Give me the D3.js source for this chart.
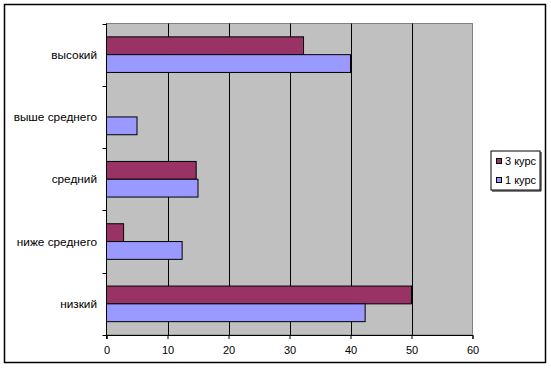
<!DOCTYPE html>
<html><head><meta charset="utf-8">
<script src="https://cdn.jsdelivr.net/npm/d3@7"></script>
<style>
html,body{margin:0;padding:0;background:#fff;}
text{font-family:Arial,"Liberation Sans",sans-serif;font-size:11px;fill:#000;}
</style></head>
<body>
<svg id="chart" width="551" height="369"></svg>
<script>
const categories = ["высокий", "выше среднего", "средний", "ниже среднего", "низкий"];
const seriesNames = ["3 курс", "1 курс"];
const course3 = [32.3, 0, 14.7, 2.8, 50];
const course1 = [40, 5, 15, 12.4, 42.4];
const xTicks = [0, 10, 20, 30, 40, 50, 60];
const colors = ["#993366", "#9999FF"];

(function () {
const svg = d3.select("#chart");
const pL = 106.5, pR = 472.5, pT = 23.5, pB = 335;

// outer border
svg.append("rect").attr("x", 4.5).attr("y", 4.5).attr("width", 541).attr("height", 358)
  .attr("fill", "#fff").attr("stroke", "#000").attr("stroke-width", 1.5);

const x = d3.scaleLinear().domain([0, 60]).range([pL, pR]);
const y = d3.scaleBand().domain(categories).range([pT, pB]).paddingInner(0).paddingOuter(0);
const bandH = y.bandwidth();
const barH = bandH / 3.5;

// plot area
svg.append("rect").attr("x", pL).attr("y", pT).attr("width", pR - pL).attr("height", pB - pT)
  .attr("fill", "#C0C0C0").attr("stroke", "#808080").attr("stroke-width", 1);

// gridlines
svg.append("g").selectAll("line").data(xTicks.filter(d => d > 0 && d < 60)).join("line")
  .attr("x1", d => Math.round(x(d)) + 0.5).attr("x2", d => Math.round(x(d)) + 0.5)
  .attr("y1", pT).attr("y2", pB).attr("stroke", "#000").attr("stroke-width", 1);

// bars
const series = [course3, course1];
series.forEach((vals, si) => {
  svg.append("g").selectAll("rect").data(categories).join("rect")
    .attr("x", x(0))
    .attr("y", (c) => y(c) + (bandH - 2 * barH) / 2 + si * barH)
    .attr("width", (c, i) => x(vals[i]) - x(0))
    .attr("height", barH)
    .attr("fill", colors[si])
    .attr("stroke", "#000")
    .attr("stroke-width", 1)
    .attr("display", (c, i) => vals[i] > 0 ? null : "none");
});

// x axis
const xAxis = svg.append("g").attr("transform", `translate(0,${pB})`)
  .call(d3.axisBottom(x).tickValues(xTicks).tickSize(4).tickPadding(7).tickFormat(d3.format("d")));
xAxis.select(".domain").attr("stroke", "#000");
xAxis.selectAll(".tick line").attr("stroke", "#000");
xAxis.selectAll("text").attr("font-family", "Arial, 'Liberation Sans', sans-serif").attr("font-size", 11.5).attr("fill", "#000");

// y axis with boundary ticks
svg.append("line").attr("x1", pL).attr("x2", pL).attr("y1", pT).attr("y2", pB + 4).attr("stroke", "#000");
const bounds = categories.map(c => y(c)).concat([pB]);
svg.append("g").selectAll("line").data(bounds).join("line")
  .attr("x1", pL - 4).attr("x2", pL).attr("y1", d => Math.round(d) + 0.5).attr("y2", d => Math.round(d) + 0.5)
  .attr("stroke", "#000");
svg.append("g").selectAll("text").data(categories).join("text")
  .attr("x", 97).attr("y", c => y(c) + bandH / 2).attr("dy", "0.35em")
  .attr("text-anchor", "end").style("font-size", "11.8px").text(c => c);

// legend
const lg = svg.append("g");
lg.append("rect").attr("x", 491).attr("y", 151).attr("width", 49).attr("height", 39)
  .attr("fill", "#fff").attr("stroke", "#000").attr("stroke-width", 1);
lg.append("line").attr("x1", 541).attr("x2", 541).attr("y1", 152).attr("y2", 191).attr("stroke", "#000");
lg.append("line").attr("x1", 492).attr("x2", 541).attr("y1", 191).attr("y2", 191).attr("stroke", "#000");
seriesNames.forEach((n, i) => {
  const cy = 161.5 + i * 19;
  lg.append("rect").attr("x", 496.5).attr("y", cy - 3).attr("width", 5).attr("height", 5)
    .attr("fill", colors[i]).attr("stroke", "#000").attr("stroke-width", 1);
  lg.append("text").attr("x", 505).attr("y", cy).attr("dy", "0.35em").text(n);
});
})();
</script>
</body></html>
